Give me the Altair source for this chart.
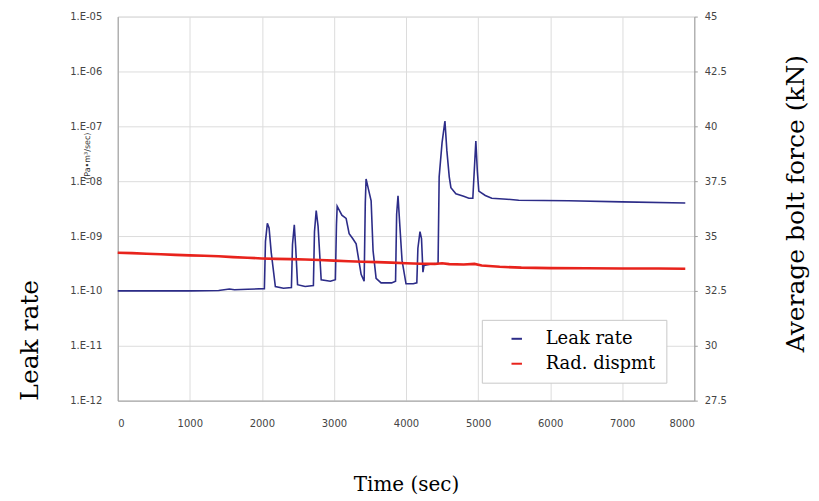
import altair as alt
import pandas as pd

# ---------------- data ----------------
LEAK_T = [0, 500, 1000, 1400, 1550, 1620, 1800, 2035,
          2050, 2076, 2100, 2130, 2187, 2300, 2410,
          2425, 2450, 2470, 2495, 2600, 2715,
          2730, 2754, 2780, 2823, 2950, 3020,
          3035, 3045, 3110, 3169, 3211, 3260, 3308, 3377, 3419,
          3435, 3446, 3480, 3516, 3543, 3585, 3654, 3800, 3855,
          3870, 3889, 3915, 3945, 4000, 4100, 4150,
          4165, 4194, 4215, 4235, 4249, 4350, 4445,
          4460, 4500, 4540, 4567, 4600, 4623, 4692, 4800, 4872, 4927,
          4969, 4990, 5010, 5100, 5190, 5400, 5564, 6256, 7000, 7875]
LEAK_V = [1.0e-10, 1.0e-10, 1.0e-10, 1.02e-10, 1.08e-10, 1.05e-10, 1.07e-10, 1.1e-10,
          8e-10, 1.7e-09, 1.4e-09, 5e-10, 1.2e-10, 1.12e-10, 1.15e-10,
          7e-10, 1.6e-09, 6e-10, 1.3e-10, 1.2e-10, 1.25e-10,
          1.2e-09, 2.9e-09, 1.5e-09, 1.6e-10, 1.5e-10, 1.6e-10,
          1.6e-09, 3.5e-09, 2.4e-09, 2.1e-09, 1.1e-09, 9e-10, 7.2e-10, 2.0e-10, 1.5e-10,
          4e-09, 1.1e-08, 7e-09, 4.4e-09, 5.4e-10, 1.7e-10, 1.4e-10, 1.4e-10, 1.5e-10,
          2.5e-09, 5.4e-09, 1.5e-09, 3.6e-10, 1.35e-10, 1.35e-10, 1.4e-10,
          6e-10, 1.2e-09, 9e-10, 2.2e-10, 2.9e-10, 3.1e-10, 3.2e-10,
          1.2e-08, 5e-08, 1.25e-07, 3.6e-08, 1.2e-08, 7.6e-09, 5.9e-09, 5.3e-09, 4.9e-09, 4.9e-09,
          5.4e-08, 1.5e-08, 6.6e-09, 5.5e-09, 4.9e-09, 4.7e-09, 4.5e-09, 4.4e-09, 4.2e-09, 4.0e-09]

FORCE_T = [0, 200, 400, 600, 800, 1000, 1200, 1400, 1600, 1800, 2000, 2200,
           2400, 2600, 2800, 3000, 3200, 3400, 3600, 3800, 4000, 4200, 4400,
           4500, 4600, 4800, 4950, 5050, 5300, 5600, 6000, 6500, 7000, 7500, 7875]
FORCE_V = [34.24, 34.22, 34.19, 34.17, 34.14, 34.12, 34.10, 34.08, 34.04, 34.01, 33.98, 33.96,
           33.95, 33.93, 33.91, 33.88, 33.85, 33.83, 33.81, 33.79, 33.76, 33.74, 33.73,
           33.76, 33.72, 33.70, 33.73, 33.66, 33.60, 33.56, 33.54, 33.53, 33.52, 33.52, 33.51]

X_TICKS = [0, 1000, 2000, 3000, 4000, 5000, 6000, 7000, 8000]
LEAK_TICKS = [1e-12, 1e-11, 1e-10, 1e-09, 1e-08, 1e-07, 1e-06, 1e-05]
LEAK_LABELS = ["1.E-12", "1.E-11", "1.E-10", "1.E-09", "1.E-08", "1.E-07", "1.E-06", "1.E-05"]
FORCE_TICKS = [27.5, 30, 32.5, 35, 37.5, 40, 42.5, 45]
FORCE_LABELS = ["27.5", "30", "32.5", "35", "37.5", "40", "42.5", "45"]
SERIES = ["Leak rate", "Rad. dispmt"]
COLORS = ["#2c2c88", "#e8231c"]
UNIT_LABEL = ["(Pa\u2022m\u00b3/sec)"]

leak_df = pd.DataFrame({"t": LEAK_T, "v": LEAK_V, "series": SERIES[0]})
force_df = pd.DataFrame({"t": FORCE_T, "f": FORCE_V, "series": SERIES[1]})
unit_df = pd.DataFrame({"label": UNIT_LABEL})

leak_expr = "[" + ",".join(f"'{s}'" for s in LEAK_LABELS) + "][round(log(datum.value)/LN10)+12]"
force_expr = "[" + ",".join(f"'{s}'" for s in FORCE_LABELS) + "][round((datum.value-27.5)/2.5)]"

SERIF = "DejaVu Serif"
SANS = "DejaVu Sans"

color = alt.Color(
    "series:N",
    scale=alt.Scale(domain=SERIES, range=COLORS),
    legend=alt.Legend(
        orient="none", legendX=365, legendY=304, title=None,
        symbolType="stroke", symbolSize=110, symbolStrokeWidth=2, symbolOffset=16,
        labelFont=SERIF, labelFontSize=18, labelColor="black",
        labelOffset=20, labelLimit=300,
        labelExpr="datum.label + '\u00a0\u00a0\u00a0\u00a0\u00a0\u00a0'",
        fillColor="white", strokeColor="#c8c8c8",
        padding=10, rowPadding=7,
    ),
)

x_enc = alt.X(
    "t:Q",
    scale=alt.Scale(domain=[0, 8000], nice=False, zero=False),
    axis=alt.Axis(
        values=X_TICKS, format="d", title="Time (sec)",
        titleFont=SERIF, titleFontSize=20, titleFontWeight="normal", titleColor="black",
        titleX=289, titleY=84, titleAlign="center", titleBaseline="middle",
        labelFont=SANS, labelFontSize=10, labelColor="#444", labelPadding=18,
        ticks=False, grid=True, gridColor="#dcdcdc", domainColor="#a0a0a0",
    ),
)

leak = alt.Chart(leak_df).mark_line(strokeWidth=1.6).encode(
    x=x_enc,
    y=alt.Y(
        "v:Q",
        scale=alt.Scale(type="log", domain=[1e-12, 1e-05], nice=False),
        axis=alt.Axis(
            orient="left", values=LEAK_TICKS, labelExpr=leak_expr,
            title="Leak rate", titleFont=SERIF, titleFontSize=25, titleFontWeight="normal",
            titleColor="black", titleAngle=270, titleX=-88, titleY=324,
            titleAlign="center", titleBaseline="middle",
            labelFont=SANS, labelFontSize=10, labelColor="#444", labelPadding=16,
            ticks=False, grid=True, gridColor="#dcdcdc", domainColor="#a0a0a0",
        ),
    ),
    color=color,
)

force = alt.Chart(force_df).mark_line(strokeWidth=2.6).encode(
    x=alt.X("t:Q"),
    y=alt.Y(
        "f:Q",
        scale=alt.Scale(domain=[27.5, 45], nice=False, zero=False),
        axis=alt.Axis(
            orient="right", values=FORCE_TICKS, labelExpr=force_expr,
            title="Average bolt force (kN)", titleFont=SERIF, titleFontSize=25,
            titleFontWeight="normal", titleColor="black", titleAngle=270,
            titleX=101, titleY=187, titleAlign="center", titleBaseline="middle",
            labelFont=SANS, labelFontSize=10, labelColor="#444", labelPadding=7,
            tickSize=3, tickColor="#a0a0a0", grid=False, domainColor="#a0a0a0",
        ),
    ),
    color=color,
)

unit = alt.Chart(unit_df).mark_text(
    angle=270, fontSize=8, font=SANS, color="#333", align="center", baseline="middle"
).encode(text="label:N", x=alt.value(-30), y=alt.value(140))

chart = (
    alt.layer(leak, force, unit)
    .resolve_scale(y="independent")
    .properties(
        width=578, height=385,
        padding={"left": 110, "top": 8, "right": 117, "bottom": 100},
        autosize=alt.AutoSizeParams(type="none"),
    )
    .configure_view(stroke="#a0a0a0")
    .configure(background="white")
)

chart.save("out.html", embed_options={"renderer": "svg", "actions": False})
